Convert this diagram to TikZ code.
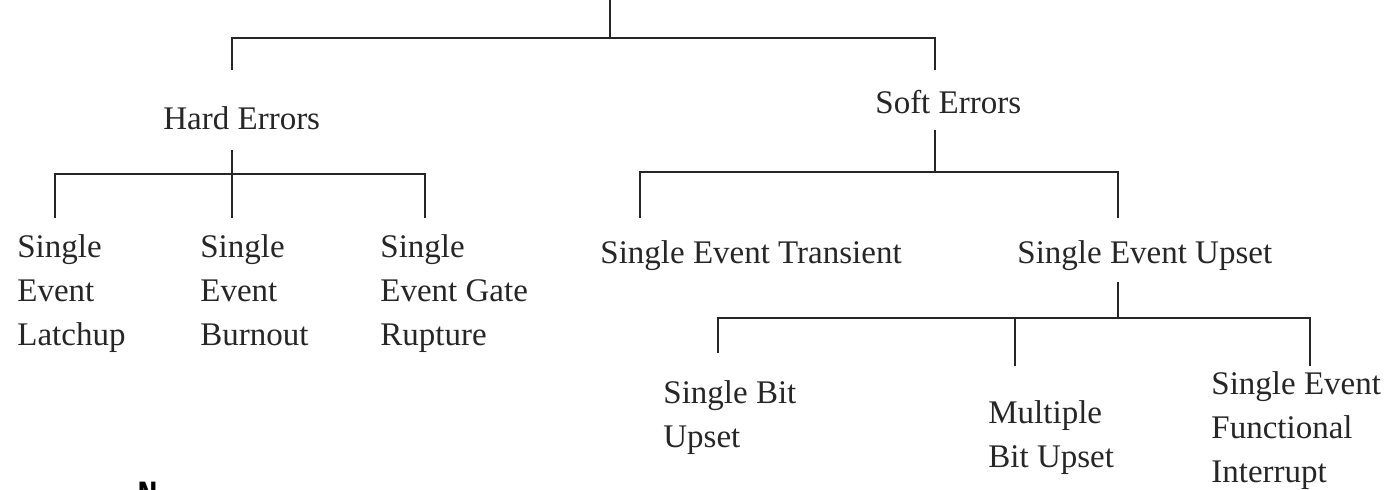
\documentclass[tikz,border=0pt]{standalone}
\usepackage{fontspec}
\setmainfont{Liberation Serif}
\newfontfamily\monofont{Liberation Mono}
\begin{document}
\begin{tikzpicture}[x=0.5pt,y=-0.5pt,
  conn/.style={line width=0.85pt,black!85},
  lbl/.style={anchor=west,inner sep=0pt,align=left,text=black!85,
    font=\fontsize{16.5}{22}\selectfont}]
\useasboundingbox (0,0) rectangle (1388,489);
\clip (0,0) rectangle (1388,489);

% category labels
\node[lbl] (hard) at (163,118) {Hard Errors};
\node[lbl] (soft) at (875,102) {Soft Errors};
\node[lbl] (sel)  at (17,294)  {Single\\Event\\Latchup};
\node[lbl] (seb)  at (200,290) {Single\\Event\\Burnout};
\node[lbl] (segr) at (380,294) {Single\\Event Gate\\Rupture};
\node[lbl] (set)  at (600,256) {Single Event Transient};
\node[lbl] (seu)  at (1017,256) {Single Event Upset};
\node[lbl] (sbu)  at (663,418) {Single Bit\\Upset};
\node[lbl] (mbu)  at (988,438) {Multiple\\Bit Upset};
\node[lbl] (sefi) at (1211,431) {Single Event\\Functional\\Interrupt};
\node[anchor=north west,inner sep=0pt,font=\monofont\bfseries\fontsize{17}{20}\selectfont] (nmark) at (137,482) {N};

% tree junctions and line ends
\coordinate (root)   at (610,0);
\coordinate (rootJ)  at (610,38);
\coordinate (hardIn) at (232,70);
\coordinate (softIn) at (935,70);

\coordinate (hardOut) at (232,150);
\coordinate (hardJ)   at (232,174);
\coordinate (selIn)   at (55,218);
\coordinate (sebIn)   at (232,218);
\coordinate (segrIn)  at (425,218);

\coordinate (softOut) at (935,130);
\coordinate (softJ)   at (935,172);
\coordinate (setIn)   at (640,218);
\coordinate (seuIn)   at (1118,218);

\coordinate (seuOut) at (1118,282);
\coordinate (seuJ)   at (1118,318);
\coordinate (sbuIn)  at (718,353);
\coordinate (mbuIn)  at (1015,366);
\coordinate (sefiIn) at (1310,366);

% connectors
\draw[conn] (root) -- (rootJ);
\draw[conn] (hardIn) |- (rootJ) -| (softIn);

\draw[conn] (hardOut) -- (hardJ);
\draw[conn] (selIn) |- (hardJ) -| (segrIn);
\draw[conn] (hardJ) -- (sebIn);

\draw[conn] (softOut) -- (softJ);
\draw[conn] (setIn) |- (softJ) -| (seuIn);

\draw[conn] (seuOut) -- (seuJ);
\draw[conn] (sbuIn) |- (seuJ) -| (sefiIn);
\draw[conn] (mbuIn) -- (mbuIn |- seuJ);
\end{tikzpicture}
\end{document}
